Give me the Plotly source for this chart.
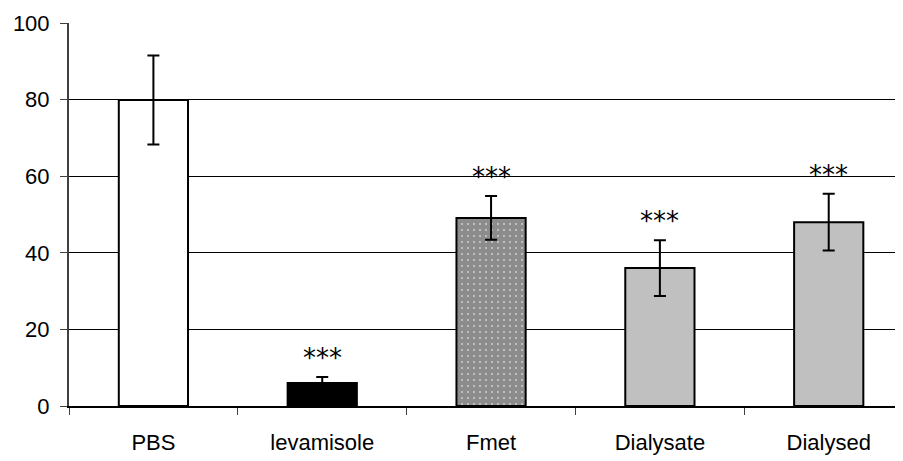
import plotly.graph_objects as go

categories = ["PBS", "levamisole", "Fmet", "Dialysate", "Dialysed"]
values = [79.9, 6.0, 49.1, 36.0, 48.0]
errors = [11.6, 1.6, 5.7, 7.3, 7.4]
stars = ["", "***", "***", "***", "***"]
fills = ["#ffffff", "#000000", "#8c8c8c", "#c0c0c0", "#c0c0c0"]
y_ticks = [0, 20, 40, 60, 80, 100]

fig = go.Figure()
for i, (c, v, e, f) in enumerate(zip(categories, values, errors, fills)):
    marker = dict(color=f, line=dict(color="#000000", width=2))
    if c == "Fmet":
        marker["pattern"] = dict(shape=".", size=6, solidity=0.06,
                                 fgcolor="#ffffff", bgcolor=f, fillmode="replace")
    fig.add_trace(go.Bar(
        x=[c], y=[v], width=0.41, marker=marker,
        error_y=dict(type="data", array=[e], visible=True, color="#000000",
                     thickness=2, width=6),
        showlegend=False,
    ))

for c, v, e, s in zip(categories, values, errors, stars):
    if s:
        fig.add_annotation(x=c, y=v + e, text=s, showarrow=False,
                           yanchor="bottom", yshift=2,
                           font=dict(family="DejaVu Sans", size=26, color="#000000"))

fig.update_layout(
    width=895, height=453,
    margin=dict(l=61, r=0, t=15, b=55),
    paper_bgcolor="#ffffff", plot_bgcolor="#ffffff",
    font=dict(family="Liberation Sans", size=22, color="#000000"),
    barmode="overlay",
)
fig.update_xaxes(
    type="category", categoryorder="array", categoryarray=categories,
    range=[-0.5, 4.44], showgrid=False,
    showline=True, linecolor="#000000", linewidth=2,
    ticks="outside", tickson="boundaries", ticklen=7, tickcolor="#404040", tickwidth=1,
    tickfont=dict(size=22), ticklabelstandoff=16,
)
fig.update_yaxes(
    range=[0, 100], tickvals=y_ticks, showgrid=True, gridcolor="#000000", gridwidth=1,
    showline=True, linecolor="#404040", linewidth=2,
    ticks="outside", ticklen=7, tickcolor="#404040", tickwidth=1,
    tickfont=dict(size=22), zeroline=False, ticklabelstandoff=6,
)
fig.write_html("out.html")
